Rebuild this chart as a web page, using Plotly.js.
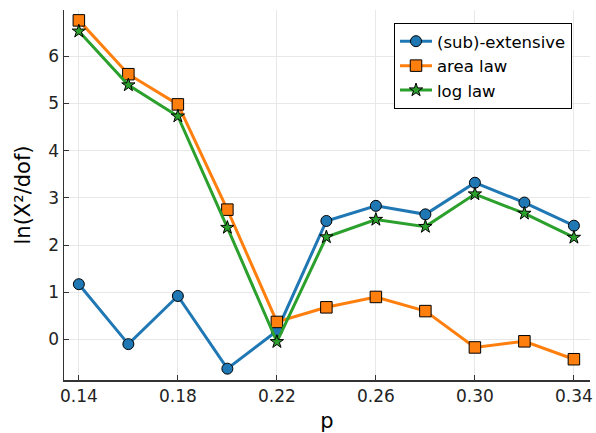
<!DOCTYPE html>
<html><head><meta charset="utf-8">
<script src="https://cdn.plot.ly/plotly-3.0.1.min.js"></script>
<style>html,body{margin:0;padding:0;background:#fff}</style>
</head><body>
<div id="chart" style="width:596px;height:433px"></div>
<script>
const pValues = [0.14, 0.16, 0.18, 0.20, 0.22, 0.24, 0.26, 0.28, 0.30, 0.32, 0.34];
const subExtensive = [1.17, -0.10, 0.92, -0.62, 0.18, 2.51, 2.83, 2.65, 3.32, 2.90, 2.41];
const areaLaw = [6.76, 5.62, 4.98, 2.75, 0.37, 0.68, 0.90, 0.60, -0.17, -0.04, -0.42];
const logLaw = [6.53, 5.39, 4.73, 2.37, -0.05, 2.17, 2.54, 2.39, 3.08, 2.67, 2.16];
const seriesNames = ["(sub)-extensive", "area law", "log law"];
const xTicks = [0.14, 0.18, 0.22, 0.26, 0.30, 0.34];
const xTickText = ["0.14", "0.18", "0.22", "0.26", "0.30", "0.34"];
const yTicks = [0, 1, 2, 3, 4, 5, 6];

const colors = ["#1f77b4", "#ff7f0e", "#2ca02c"];
const symbols = ["circle", "square", "star"];
const sizes = [11, 11.5, 10];
const data = [subExtensive, areaLaw, logLaw].map((ys, i) => ({
  x: pValues, y: ys, name: seriesNames[i], type: "scatter", mode: "lines+markers",
  line: {color: colors[i], width: 3},
  marker: {symbol: symbols[i], size: sizes[i], color: colors[i], line: {color: "#000", width: 1}}
}));

const font = "DejaVu Sans, sans-serif";
const layout = {
  width: 596, height: 433,
  margin: {l: 63.5, r: 6, t: 10, b: 53},
  paper_bgcolor: "#fff", plot_bgcolor: "#fff",
  showlegend: true,
  legend: {x: 0.9658, y: 0.965, xanchor: "right", yanchor: "top",
    bgcolor: "#fff", bordercolor: "#000", borderwidth: 1,
    font: {family: font, size: 16.5, color: "#000"}, tracegroupgap: 0, itemwidth: 32},
  xaxis: {range: [0.134, 0.3465], tickvals: xTicks, ticktext: xTickText,
    showgrid: true, gridcolor: "#e8e8e8", gridwidth: 1, zeroline: false,
    showline: true, linecolor: "#333", linewidth: 1.5,
    ticks: "inside", ticklen: 5, tickcolor: "#333",
    tickfont: {family: font, size: 17, color: "#222"},
    title: {text: "p", font: {family: font, size: 21, color: "#000"}, standoff: 9}},
  yaxis: {range: [-0.86, 6.98], tickvals: yTicks,
    showgrid: true, gridcolor: "#e8e8e8", gridwidth: 1, zeroline: false,
    showline: true, linecolor: "#333", linewidth: 1.5,
    ticks: "inside", ticklen: 5, tickcolor: "#333",
    tickfont: {family: font, size: 17, color: "#222"},
    title: {text: "ln(X²/dof)", font: {family: font, size: 21, color: "#000"}, standoff: 12}}
};
Plotly.newPlot("chart", data, layout, {displayModeBar: false, staticPlot: true});
</script>
</body></html>
